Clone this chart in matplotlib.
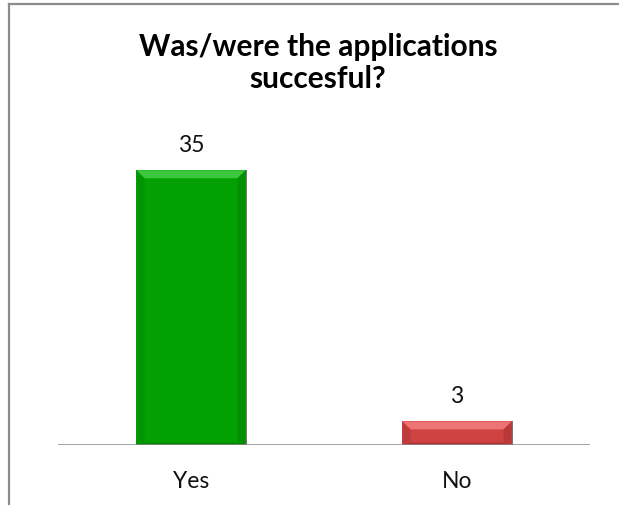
import matplotlib
matplotlib.use("Agg")
import matplotlib.pyplot as plt
from matplotlib.patches import Polygon, Rectangle
from matplotlib.lines import Line2D
from matplotlib.transforms import blended_transform_factory

categories = ["Yes", "No"]
counts = [35, 3]
bar_colors = ["#03A003", "#CF4242"]
light_colors = ["#3CC83C", "#EC7474"]
dark_colors = ["#028A02", "#B03434"]
title_lines = ["Was/were the applications", "succesful?"]

W, H = 619, 506
fig = plt.figure(figsize=(W / 100, H / 100), dpi=100)
fig.patch.set_facecolor("white")

# axes placed in pixel units
ax_left, ax_right, ax_bottom, ax_top = 58, 590, 60, 374
ax = fig.add_axes([ax_left / W, ax_bottom / H, (ax_right - ax_left) / W, (ax_top - ax_bottom) / H])
ax.set_xlim(-0.5, 1.5)
ax.set_ylim(0, 40)
ax.set_axis_off()
ax.axhline(0, color="#898989", lw=1.8, zorder=5)

bar_w = 0.41
xs = list(range(len(categories)))
bars = ax.bar(xs, counts, width=bar_w, color=bar_colors, zorder=3)

# category labels below the baseline
lab_tr = blended_transform_factory(ax.transData, fig.transFigure)
for x, name in zip(xs, categories):
    ax.text(x, 1 - 488 / H, name, transform=lab_tr, ha="center", va="baseline",
            fontsize=16.5, family="Lato", color="#111111")

# bevel thickness in data units
px_x = (1.5 - -0.5) / (ax_right - ax_left)
px_y = 40 / (ax_top - ax_bottom)
bx, by = 8 * px_x, 8 * px_y
for b, lc, dc in zip(bars, light_colors, dark_colors):
    x0, w, h = b.get_x(), b.get_width(), b.get_height()
    x1 = x0 + w
    byy = min(by, h * 0.4)
    # top bevel
    ax.add_patch(Polygon([(x0, h), (x1, h), (x1 - bx, h - byy), (x0 + bx, h - byy)],
                         closed=True, color=lc, lw=0, zorder=4))
    # left and right bevels
    ax.add_patch(Polygon([(x0, h), (x0 + bx, h - byy), (x0 + bx, byy * 0.3), (x0, 0)],
                         closed=True, color=dc, lw=0, zorder=4, alpha=0.5))
    ax.add_patch(Polygon([(x1, h), (x1 - bx, h - byy), (x1 - bx, byy * 0.3), (x1, 0)],
                         closed=True, color=dc, lw=0, zorder=4, alpha=0.7))
    # bottom bevel
    ax.add_patch(Polygon([(x0, 0), (x1, 0), (x1 - bx, byy * 0.3), (x0 + bx, byy * 0.3)],
                         closed=True, color=dc, lw=0, zorder=4))
    # dark shadow on right edge
    ax.add_patch(Rectangle((x1, 0), 1.5 * px_x, h, color="#555555", lw=0, zorder=4, alpha=0.8))
    ax.annotate(f"{h:g}", (x0 + w / 2, h), xytext=(0, 19), textcoords="offset pixels",
                ha="center", va="baseline", fontsize=16.5, family="Lato", color="#111111")

# two-line bold title
for line, base in zip(title_lines, [56, 88]):
    fig.text(318 / W, 1 - base / H, line, ha="center", va="baseline", fontsize=21.5,
             fontweight="bold", family="Lato", color="black")

# frame lines around the chart area
fig.add_artist(Line2D([9 / W, 1], [1 - 4.5 / H, 1 - 4.5 / H], color="#8C8C8C", lw=1.6,
                      transform=fig.transFigure))
fig.add_artist(Line2D([9 / W, 9 / W], [0, 1 - 4.5 / H], color="#8C8C8C", lw=1.6,
                      transform=fig.transFigure))

fig.savefig("out.png", dpi=100, facecolor="white")
